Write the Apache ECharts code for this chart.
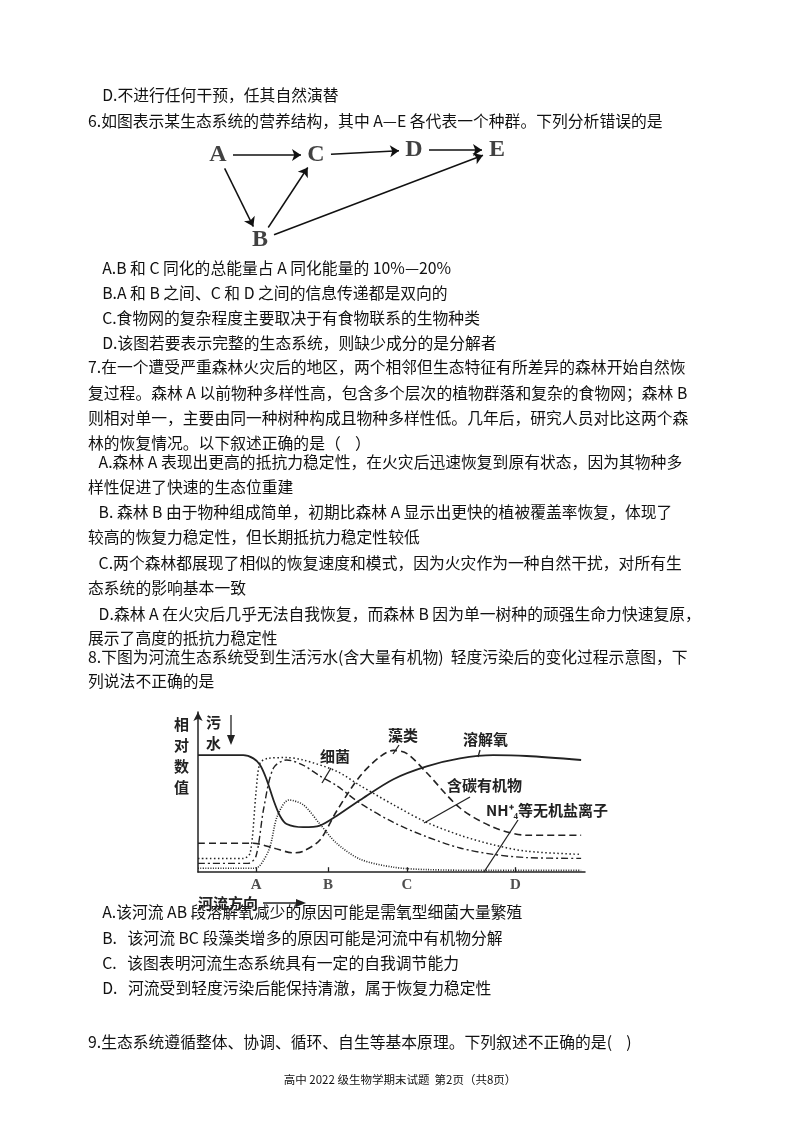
<!DOCTYPE html>
<html><head><meta charset="utf-8">
<script src="https://cdn.jsdelivr.net/npm/echarts@6/dist/echarts.min.js"></script>
<style>html,body{margin:0;background:#fff}#c{width:800px;height:1130px}</style>
</head><body><div id="c"></div>
<script>
// 食物网
var webNodes = ['A', 'B', 'C', 'D', 'E'];
var webPos = [[218, 155], [260, 240], [316, 155], [414, 150], [497, 150]];
var webLinks = [['A', 'C'], ['C', 'D'], ['D', 'E'], ['A', 'B'], ['B', 'C'], ['B', 'E']];

// 河流曲线 (横轴 0-100 = 河流方向, 纵轴 相对数值)
var riverTicks = [['A', 15], ['B', 33.6], ['C', 54], ['D', 82]];
var oxygen = [[0,73],[11.7,73],[14.3,71],[16,67],[17.7,58],[19.5,45],[21.2,35],[22.9,30],[27.2,28],[31.5,29],[35.8,35],[41.9,45],[50.5,58],[59.1,66],[67.7,71],[76.3,73],[84.9,72.5],[99,70]];
var carbon = [[0,8.5],[11.7,8.5],[13.5,12],[15,50],[16,68],[18,71],[22.9,71.5],[27.2,70],[35.8,63],[41.9,54],[50.5,42],[59.1,31],[67.7,23],[76.3,17],[84.9,13],[99,11]];
var bacteria = [[0,5.4],[13,5.4],[15,10],[17,40],[19.5,65],[22.9,70],[27,67],[31.5,60],[35.8,54],[41.9,43],[50.5,31],[59.1,22],[67.7,15],[76.3,11],[84.9,9],[99,8.5]];
var algae = [[0,18],[11.7,18],[14.3,18],[19.5,15],[24.6,12],[27.2,13],[31.5,20],[35.8,38],[41.9,60],[47,72],[50.5,76],[54,74],[59.1,62],[67.7,40],[76.3,28],[84.9,23],[99,23]];
var nh4 = [[0,2.3],[14.3,2.3],[16,4],[18.5,15],[20.5,35],[23.5,45],[27.2,42],[31.5,30],[35.8,18],[41.9,8],[50.5,3],[59.1,1.5],[76.3,1],[99,1]];

var lines = [
  [88, 98, '    D.不进行任何干预，任其自然演替'],
  [88, 124, '6.如图表示某生态系统的营养结构，其中 A—E 各代表一个种群。下列分析错误的是'],
  [88, 271, '    A.B 和 C 同化的总能量占 A 同化能量的 10%—20%'],
  [88, 296, '    B.A 和 B 之间、C 和 D 之间的信息传递都是双向的'],
  [88, 321, '    C.食物网的复杂程度主要取决于有食物联系的生物种类'],
  [88, 346, '    D.该图若要表示完整的生态系统，则缺少成分的是分解者'],
  [88, 370, '7.在一个遭受严重森林火灾后的地区，两个相邻但生态特征有所差异的森林开始自然恢'],
  [88, 396, '复过程。森林 A 以前物种多样性高，包含多个层次的植物群落和复杂的食物网；森林 B'],
  [88, 421, '则相对单一，主要由同一种树种构成且物种多样性低。几年后，研究人员对比这两个森'],
  [88, 446, '林的恢复情况。以下叙述正确的是（    ）'],
  [88, 465, '   A.森林 A 表现出更高的抵抗力稳定性，在火灾后迅速恢复到原有状态，因为其物种多'],
  [88, 490, '样性促进了快速的生态位重建'],
  [88, 515, '   B. 森林 B 由于物种组成简单，初期比森林 A 显示出更快的植被覆盖率恢复，体现了'],
  [88, 540, '较高的恢复力稳定性，但长期抵抗力稳定性较低'],
  [88, 566, '   C.两个森林都展现了相似的恢复速度和模式，因为火灾作为一种自然干扰，对所有生'],
  [88, 591, '态系统的影响基本一致'],
  [88, 617, '   D.森林 A 在火灾后几乎无法自我恢复，而森林 B 因为单一树种的顽强生命力快速复原，'],
  [88, 641, '展示了高度的抵抗力稳定性'],
  [88, 660, '8.下图为河流生态系统受到生活污水(含大量有机物)  轻度污染后的变化过程示意图，下'],
  [88, 684, '列说法不正确的是'],
  [88, 915, '    A.该河流 AB 段溶解氧减少的原因可能是需氧型细菌大量繁殖'],
  [88, 941, '    B.   该河流 BC 段藻类增多的原因可能是河流中有机物分解'],
  [88, 966, '    C.   该图表明河流生态系统具有一定的自我调节能力'],
  [88, 991, '    D.   河流受到轻度污染后能保持清澈，属于恢复力稳定性'],
  [88, 1045, '9.生态系统遵循整体、协调、循环、自生等基本原理。下列叙述不正确的是(    )']
];

var F = '"Noto Sans CJK SC", "Liberation Serif", serif';
var graphic = lines.map(function (l) {
  return { type: 'text', left: l[0], top: l[1] - 11, style: { text: l[2], font: '15.8px ' + F, fill: '#111' } };
});
graphic.push({ type: 'text', left: 'center', top: 1074, style: { text: '高中 2022 级生物学期末试题  第2页（共8页）', font: '11.5px ' + F, fill: '#111' } });

// 河流图标注
var lab = function (x, y, t, s) { return { type: 'text', left: x, top: y, style: { text: t, font: 'bold ' + (s || 15) + 'px ' + F, fill: '#222', lineHeight: 21 } }; };
var seg = function (x1, y1, x2, y2) { return { type: 'line', shape: { x1: x1, y1: y1, x2: x2, y2: y2 }, style: { stroke: '#222', lineWidth: 1.3 } }; };
graphic.push(
  lab(174, 714, '相\n对\n数\n值'), lab(206, 712, '污\n水'),
  seg(231, 715, 231, 740), { type: 'polygon', shape: { points: [[227, 735], [235, 735], [231, 745]] }, style: { fill: '#222' } },
  lab(320, 746, '细菌'), seg(331, 768, 322, 783),
  lab(388, 725, '藻类'), seg(399, 745, 393, 754),
  lab(463, 729, '溶解氧'), seg(480, 750, 478, 757),
  lab(447, 775, '含碳有机物'), seg(470, 797, 424, 823),
  lab(486, 800, 'NH⁺₄等无机盐离子'), seg(518, 820, 484, 872),
  lab(198, 893, '河流方向'), seg(263, 903, 300, 903),
  { type: 'polygon', shape: { points: [[296, 899], [306, 903], [296, 907]] }, style: { fill: '#222' } }
);

var riverSeries = [
  [oxygen, 'solid', 1.8, 0.3],
  [carbon, [1.5, 2.5], 1.5, 0.3],
  [bacteria, [7, 3, 2, 3], 1.4, 0.3],
  [algae, [7, 4], 1.6, 0.3],
  [nh4, [1, 1.5], 1.6, 0.3]
].map(function (s) {
  return { type: 'line', xAxisIndex: 1, yAxisIndex: 1, data: s[0], smooth: s[3], showSymbol: false,
    lineStyle: { color: '#222', width: s[2], type: s[1] }, silent: true };
});

// 箭头两端退让到字母外
var arrows = webLinks.map(function (l) {
  var a = webPos[webNodes.indexOf(l[0])], b = webPos[webNodes.indexOf(l[1])];
  var dx = b[0] - a[0], dy = b[1] - a[1], d = Math.sqrt(dx * dx + dy * dy);
  var r = 15;
  return { coords: [[a[0] + dx / d * r, a[1] + dy / d * r], [b[0] - dx / d * r, b[1] - dy / d * r]] };
});

var chart = echarts.init(document.getElementById('c'));
chart.setOption({
  backgroundColor: '#fff',
  animation: false,
  grid: [
    { left: 0, top: 0, width: 800, height: 1130 },
    { left: 198, top: 712, width: 387, height: 160 }
  ],
  xAxis: [
    { gridIndex: 0, type: 'value', min: 0, max: 800, show: false },
    { gridIndex: 1, type: 'value', min: 0, max: 100,
      axisLine: { lineStyle: { color: '#222', width: 1.5 } }, axisTick: { show: false },
      splitLine: { show: false }, axisLabel: { show: false } }
  ],
  yAxis: [
    { gridIndex: 0, type: 'value', min: 0, max: 1130, inverse: true, show: false },
    { gridIndex: 1, type: 'value', min: 0, max: 100, axisTick: { show: false }, axisLabel: { show: false },
      splitLine: { show: false },
      axisLine: { lineStyle: { color: '#222', width: 1.5 }, symbol: ['none', 'arrow'], symbolSize: [7, 9] } }
  ],
  series: [{
    type: 'scatter', xAxisIndex: 0, yAxisIndex: 0, symbolSize: 0,
    data: webNodes.map(function (n, i) { return webPos[i]; }),
    label: { show: true, position: 'inside', fontSize: 24, fontWeight: 'bold', color: '#111', fontFamily: '"Liberation Serif", serif',
      formatter: function (p) { return webNodes[p.dataIndex]; } }
  }, {
    type: 'lines', coordinateSystem: 'cartesian2d', xAxisIndex: 0, yAxisIndex: 0,
    symbol: ['none', 'arrow'], symbolSize: 9,
    lineStyle: { color: '#111', width: 1.5, opacity: 1 },
    data: arrows
  }, {
    type: 'scatter', xAxisIndex: 1, yAxisIndex: 1, symbolSize: 0,
    data: riverTicks.map(function (t) { return [t[1], 0]; }),
    label: { show: true, position: 'bottom', distance: 6, color: '#222', fontSize: 15, fontWeight: 'bold', fontFamily: '"Liberation Serif", serif',
      formatter: function (p) { return riverTicks[p.dataIndex][0]; } },
    markLine: { silent: true, symbol: 'none', label: { show: false }, lineStyle: { color: '#222', type: 'solid', width: 1.3 },
      data: riverTicks.map(function (t) { return [{ coord: [t[1], 0] }, { coord: [t[1], 3] }]; }) }
  }].concat(riverSeries),
  graphic: graphic
});
</script></body></html>
